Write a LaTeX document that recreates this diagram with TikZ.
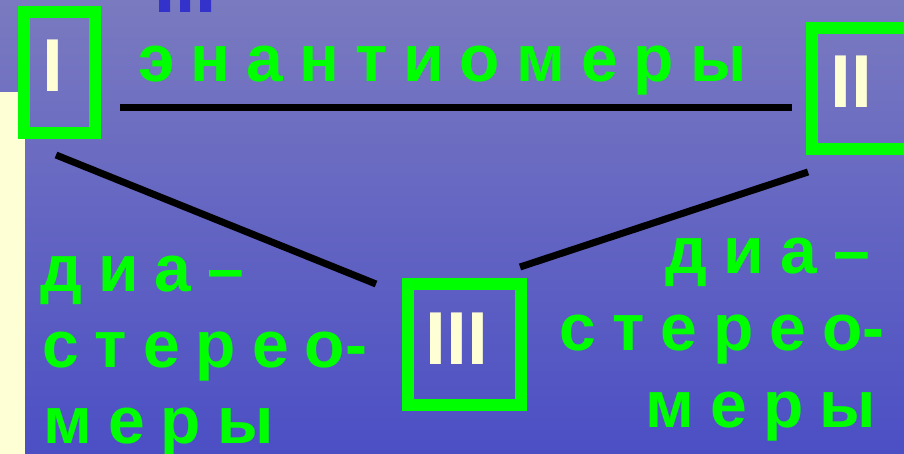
\documentclass[tikz,border=0pt]{standalone}
\usepackage{fontspec}
\setmainfont{Liberation Sans}
\definecolor{bgtop}{RGB}{122,122,192}
\definecolor{bgbot}{RGB}{76,79,196}
\definecolor{lime}{RGB}{0,255,0}
\definecolor{cream}{RGB}{255,255,213}
\definecolor{darkblue}{RGB}{51,51,204}
\newcommand\wordfont{\bfseries\fontsize{66}{76}\selectfont\spaceskip 16pt\relax}
\begin{document}
\begin{tikzpicture}[x=1pt,y=-1pt,
  frame/.style={draw=lime,line width=12pt,inner sep=0pt,fill=none},
  numeral/.style={text=cream,font=\bfseries\fontsize{75}{75}\selectfont,inner sep=0pt,anchor=base},
  word/.style={text=lime,font=\wordfont,inner sep=0pt},
  link/.style={line width=7pt,black}]
\clip (0,0) rectangle (904,454);
\shade[top color=bgtop,bottom color=bgbot] (0,0) rectangle (904,454);
\fill[cream] (0,92) rectangle (25,454);
\fill[darkblue] (159,0) rectangle (170,12) (180,0) rectangle (190,12) (200,0) rectangle (211,12);
% boxes
\node[frame,minimum width=71pt,minimum height=121pt] (boxI) at (59.5,72.5) {};
\node[frame,minimum width=98pt,minimum height=121pt] (boxII) at (861,88.5) {};
\node[frame,minimum width=113pt,minimum height=121pt] (boxIII) at (464.5,344.5) {};
\node[numeral] (numI) at (52.5,92) {I};
\node[numeral] (numII) at (851,108) {II};
\node[numeral] (numIII) at (457,364) {III};
% connectors
\coordinate (hA) at (120,107.5);
\coordinate (hB) at (792,107.5);
\coordinate (lA) at (56,155);
\coordinate (lB) at (376,284);
\coordinate (rA) at (520,267);
\coordinate (rB) at (808,172);
\draw[link] (hA) -- (hB);
\draw[link] (lA) -- (lB);
\draw[link] (rA) -- (rB);
% texts
\node[word,anchor=base west] (enant) at (138,82) {э н а н т и о м е р ы};
\node[word,anchor=base west] (dL1) at (40,291) {д и а –};
\node[word,anchor=base west] (dL2) at (42,367) {с т е р е о-};
\node[word,anchor=base west] (dL3) at (43,443) {м е р ы};
\node[word,anchor=base east] (dR1) at (870,273) {д и а –};
\node[word,anchor=base east] (dR2) at (885,350) {с т е р е о-};
\node[word,anchor=base east] (dR3) at (876,427) {м е р ы};
\end{tikzpicture}
\end{document}
